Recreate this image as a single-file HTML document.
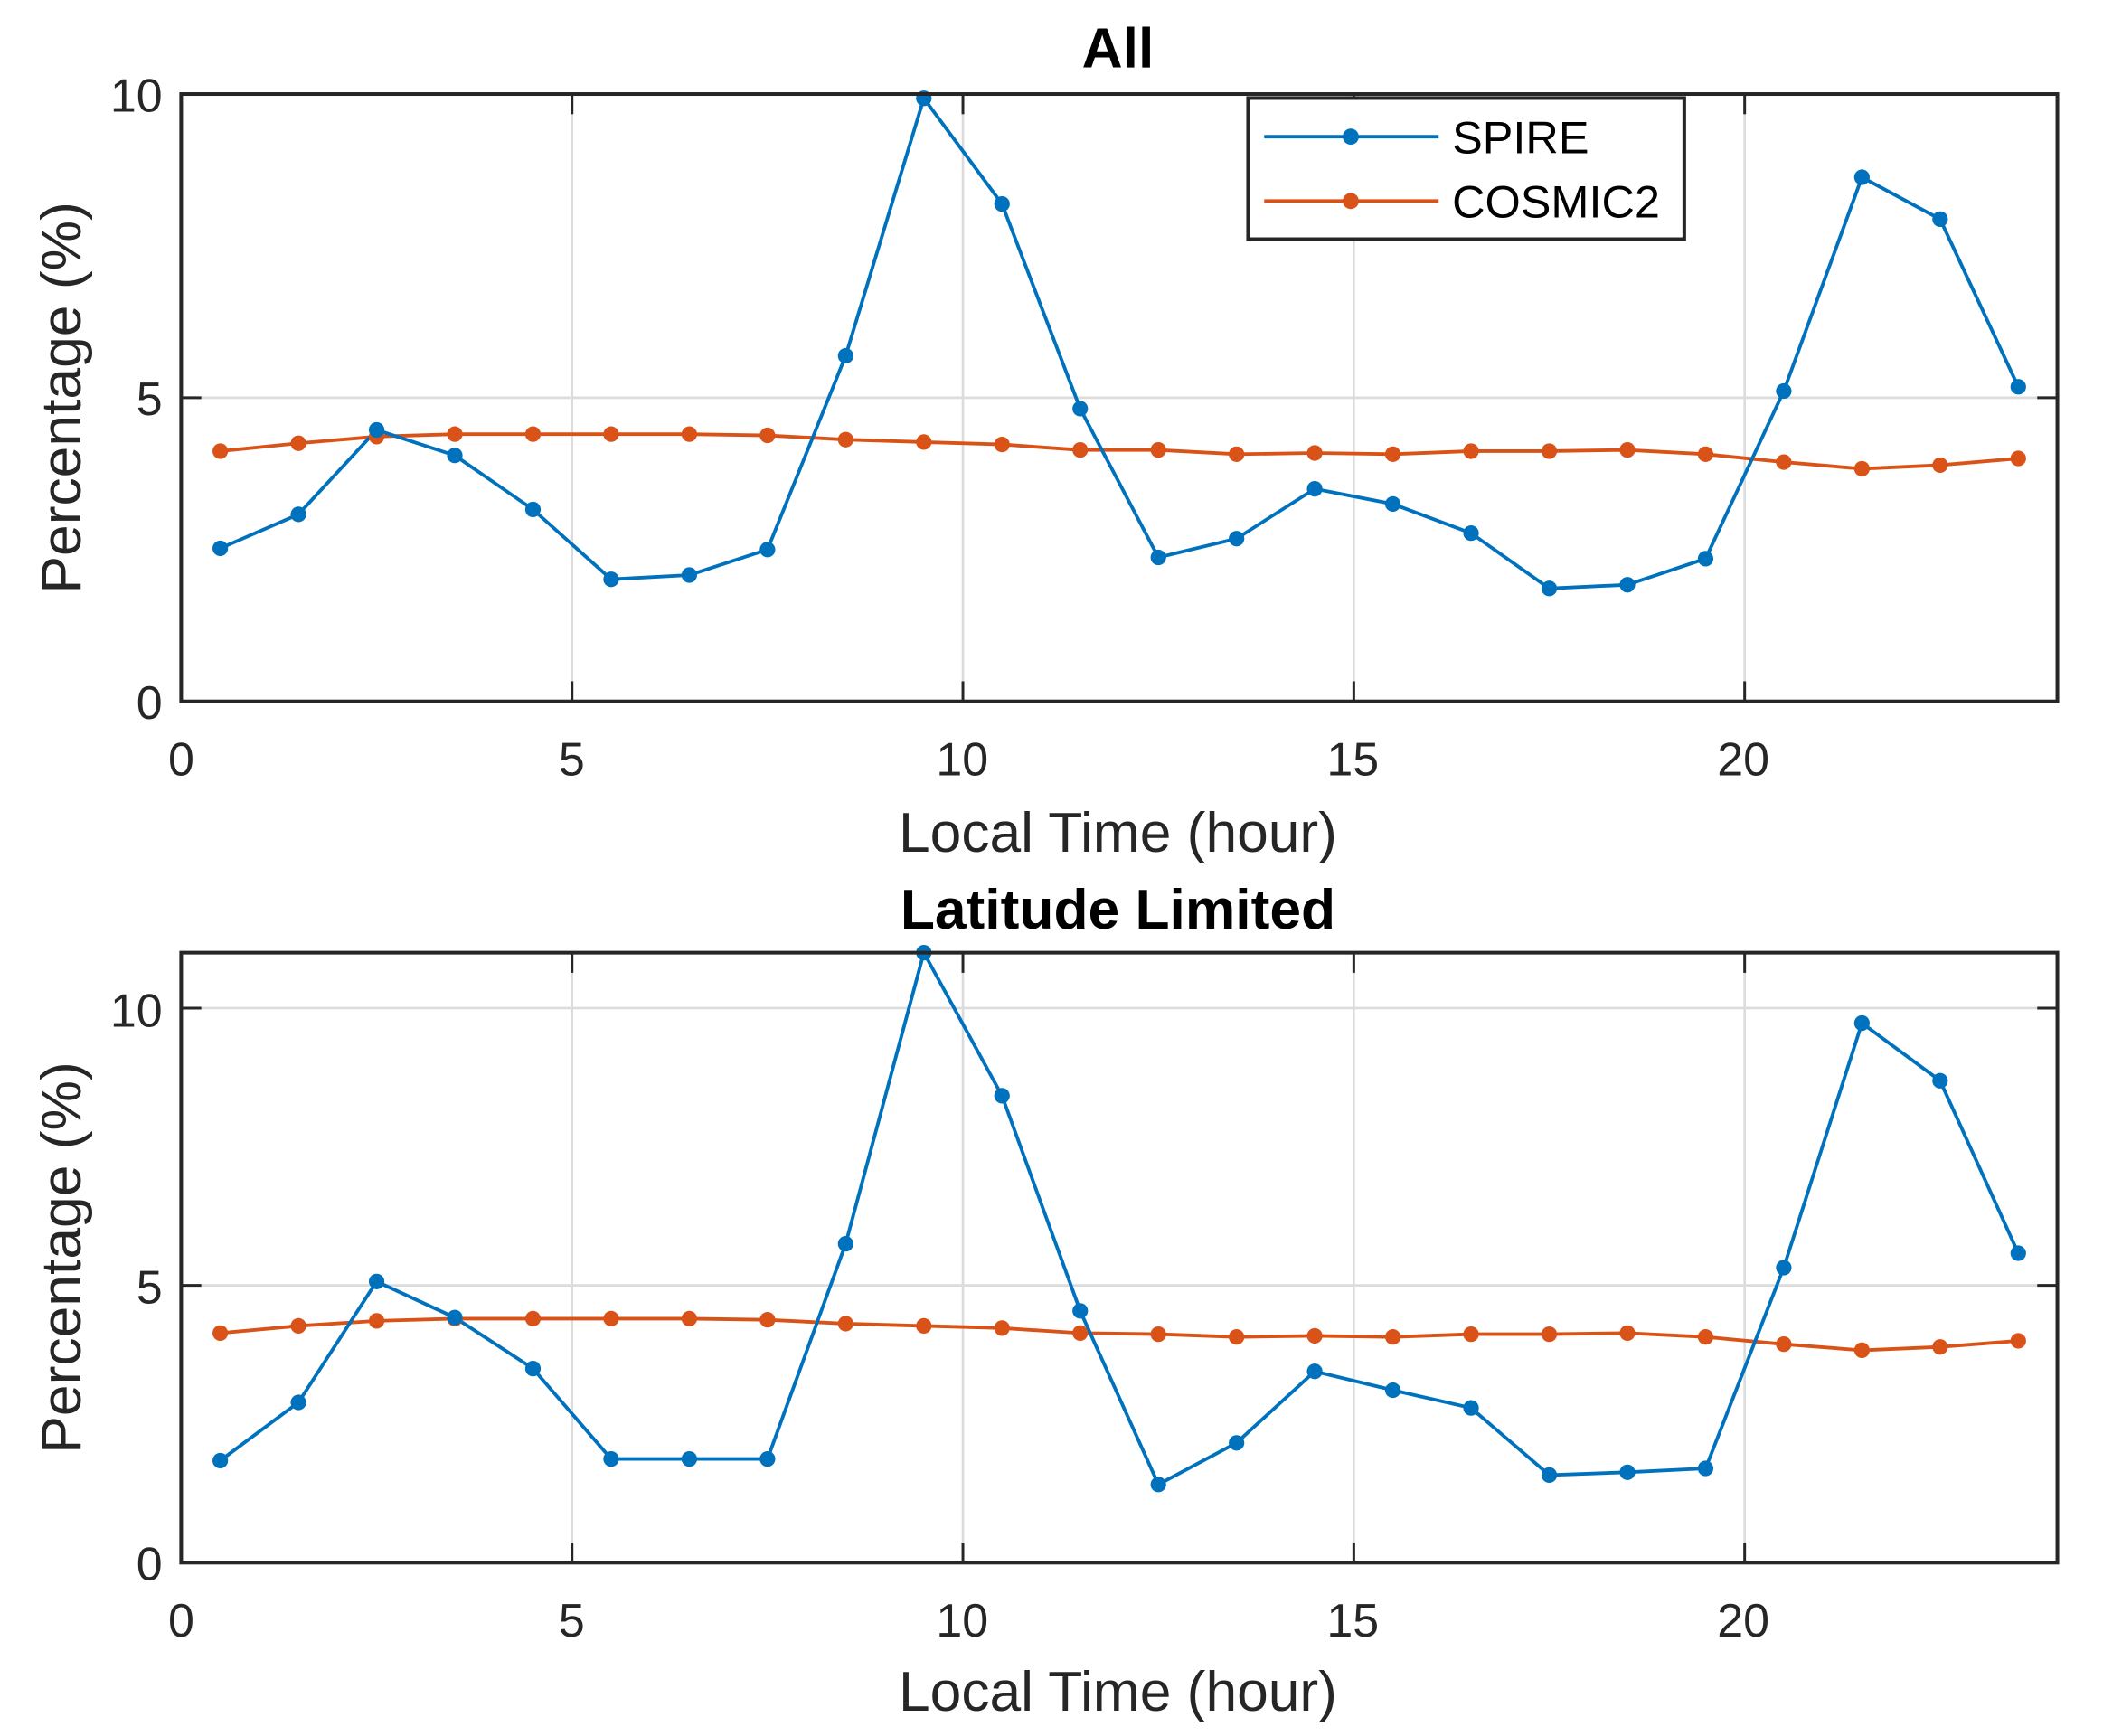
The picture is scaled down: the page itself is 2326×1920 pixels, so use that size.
<!DOCTYPE html>
<html><head><meta charset="utf-8"><style>
html,body{margin:0;padding:0;background:#fff}
svg{display:block}
text{font-family:"Liberation Sans",Arial,sans-serif;fill:#262626}
</style></head><body>
<svg id="s" width="2326" height="1920" viewBox="0 0 1567 1292" preserveAspectRatio="none" xmlns="http://www.w3.org/2000/svg">
<rect width="1567" height="1292" fill="#fff"/>
<g id="g1"></g>
<g id="g2"></g>
<text x="833" y="50" font-size="42" font-weight="bold" text-anchor="middle" style="fill:#000">All</text>
<g font-size="35" text-anchor="middle">
<text x="135" y="577">0</text><text x="426" y="577">5</text><text x="717" y="577">10</text><text x="1008" y="577">15</text><text x="1299" y="577">20</text>
</g>
<g font-size="35" text-anchor="end">
<text x="121" y="535">0</text><text x="121" y="309">5</text><text x="121" y="83">10</text>
</g>
<text x="833" y="634" font-size="42" text-anchor="middle">Local Time (hour)</text>
<text transform="translate(60,296) rotate(-90)" font-size="42" text-anchor="middle">Percentage (%)</text>
<text x="833" y="691" font-size="42" font-weight="bold" text-anchor="middle" style="fill:#000">Latitude Limited</text>
<g font-size="35" text-anchor="middle">
<text x="135" y="1218">0</text><text x="426" y="1218">5</text><text x="717" y="1218">10</text><text x="1008" y="1218">15</text><text x="1299" y="1218">20</text>
</g>
<g font-size="35" text-anchor="end">
<text x="121" y="1176">0</text><text x="121" y="970">5</text><text x="121" y="764">10</text>
</g>
<text x="833" y="1273" font-size="42" text-anchor="middle">Local Time (hour)</text>
<text transform="translate(60,936) rotate(-90)" font-size="42" text-anchor="middle">Percentage (%)</text>
<rect x="930" y="73" width="325" height="105" fill="#fff" stroke="#262626" stroke-width="2.7"/>
<line x1="942" y1="101.7" x2="1072" y2="101.7" stroke="#0072BD" stroke-width="2.6"/>
<circle cx="1006.5" cy="101.7" r="6" fill="#0072BD"/>
<line x1="942" y1="149.6" x2="1072" y2="149.6" stroke="#D95319" stroke-width="2.6"/>
<circle cx="1006.5" cy="149.6" r="6" fill="#D95319"/>
<text x="1082" y="114" font-size="34" style="fill:#000">SPIRE</text>
<text x="1082" y="162" font-size="34" style="fill:#000">COSMIC2</text>
</svg>
<script>
var NS="http://www.w3.org/2000/svg";
function el(p,t,a){var e=document.createElementNS(NS,t);for(var k in a)e.setAttribute(k,a[k]);p.appendChild(e);return e;}
var s1=[2.52,3.08,4.47,4.05,3.16,2.01,2.08,2.5,5.69,9.93,8.19,4.82,2.37,2.68,3.5,3.25,2.77,1.86,1.92,2.35,5.11,8.63,7.94,5.18];
var c1=[4.12,4.25,4.36,4.4,4.4,4.4,4.4,4.38,4.31,4.27,4.23,4.14,4.14,4.07,4.09,4.07,4.12,4.12,4.14,4.07,3.94,3.83,3.89,4.0];
var s2=[1.84,2.89,5.07,4.42,3.5,1.87,1.87,1.87,5.75,11.0,8.42,4.54,1.41,2.16,3.45,3.11,2.79,1.58,1.63,1.7,5.32,9.73,8.69,5.58];
var c2=[4.14,4.27,4.36,4.4,4.4,4.4,4.4,4.38,4.31,4.27,4.23,4.14,4.12,4.07,4.09,4.07,4.12,4.12,4.14,4.07,3.94,3.83,3.89,4.0];
function axes(g,top,bot,ymax,yt,ser){
  var L=135,R=1533,sx=(R-L)/24,sy=(bot-top)/ymax,tk=15;
  function X(v){return L+v*sx;} function Y(v){return bot-v*sy;}
  el(g,"rect",{x:L,y:top,width:R-L,height:bot-top,fill:"#fff"});
  [5,10,15,20].forEach(function(v){el(g,"line",{x1:X(v),x2:X(v),y1:top,y2:bot,stroke:"#dcdcdc","stroke-width":1.8});});
  yt.forEach(function(v){if(v>0&&v<ymax)el(g,"line",{x1:L,x2:R,y1:Y(v),y2:Y(v),stroke:"#dcdcdc","stroke-width":1.8});});
  [5,10,15,20].forEach(function(v){el(g,"line",{x1:X(v),x2:X(v),y1:bot,y2:bot-tk,stroke:"#262626","stroke-width":2});el(g,"line",{x1:X(v),x2:X(v),y1:top,y2:top+tk,stroke:"#262626","stroke-width":2});});
  yt.forEach(function(v){el(g,"line",{x1:L,x2:L+tk,y1:Y(v),y2:Y(v),stroke:"#262626","stroke-width":2});el(g,"line",{x1:R,x2:R-tk,y1:Y(v),y2:Y(v),stroke:"#262626","stroke-width":2});});
  ser.forEach(function(sr){
    var pts=sr.d.map(function(v,i){return X(i+0.5)+","+Y(v);}).join(" ");
    el(g,"polyline",{points:pts,fill:"none",stroke:sr.c,"stroke-width":2.6});
  });
  ser.forEach(function(sr){sr.d.forEach(function(v,i){el(g,"circle",{cx:X(i+0.5),cy:Y(v),r:5.8,fill:sr.c});});});
  el(g,"rect",{x:L,y:top,width:R-L,height:bot-top,fill:"none",stroke:"#262626","stroke-width":2.7});
}
axes(document.getElementById("g1"),70,522,10,[0,5,10],[{d:c1,c:"#D95319"},{d:s1,c:"#0072BD"}]);
axes(document.getElementById("g2"),709,1163,11,[0,5,10],[{d:c2,c:"#D95319"},{d:s2,c:"#0072BD"}]);
</script>
</body></html>
